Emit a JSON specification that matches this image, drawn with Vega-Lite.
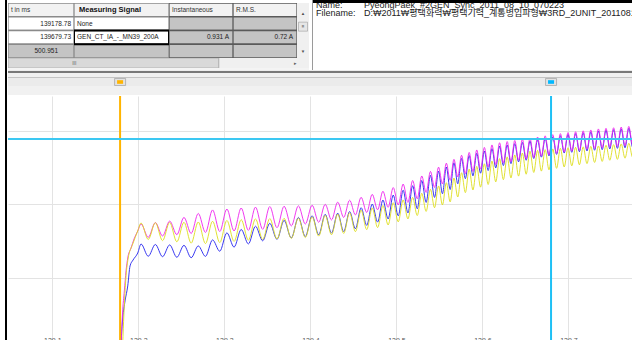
{
  "$schema": "https://vega.github.io/schema/vega-lite/v6.json",
  "padding": 0,
  "background": "white",
  "spacing": 0,
  "config": {"view": {"stroke": null}, "concat": {"spacing": 0}, "font": "Liberation Sans"},
  "datasets": {
    "table": [
      {"row": "0h", "col": "t", "kind": "header", "label": "t in ms"},
      {"row": "0h", "col": "sig", "kind": "header", "label": "Measuring Signal"},
      {"row": "0h", "col": "inst", "kind": "header", "label": "Instantaneous"},
      {"row": "0h", "col": "rms", "kind": "header", "label": "R.M.S."},
      {"row": "1", "col": "t", "kind": "edit", "label": "139178.78"},
      {"row": "1", "col": "sig", "kind": "edit", "label": "None"},
      {"row": "1", "col": "inst", "kind": "readonly", "label": ""},
      {"row": "1", "col": "rms", "kind": "readonly", "label": ""},
      {"row": "2", "col": "t", "kind": "edit", "label": "139679.73"},
      {"row": "2", "col": "sig", "kind": "selected", "label": "GEN_CT_IA_-_MN39_200A"},
      {"row": "2", "col": "inst", "kind": "readonly", "label": "0.931  A"},
      {"row": "2", "col": "rms", "kind": "readonly", "label": "0.72  A"},
      {"row": "3", "col": "t", "kind": "total", "label": "500.951"},
      {"row": "3", "col": "sig", "kind": "readonly", "label": ""},
      {"row": "3", "col": "inst", "kind": "readonly", "label": ""},
      {"row": "3", "col": "rms", "kind": "readonly", "label": ""}
    ],
    "cursors": [
      {"cursor": "C1", "t": 139.17878},
      {"cursor": "C2", "t": 139.67973, "v": 0.945}
    ],
    "waves": [
      {"t": 139.17873, "B": -0.565},
      {"t": 139.17931, "M": -0.565},
      {"t": 139.18106, "Y": -0.565},
      {"t": 139.18164, "M": -0.238},
      {"t": 139.18187, "B": -0.272},
      {"t": 139.18373, "M": -0.088},
      {"t": 139.18397, "Y": -0.156},
      {"t": 139.18455, "B": -0.156},
      {"t": 139.18571, "M": 0.048, "Y": 0.014},
      {"t": 139.18769, "M": 0.136, "B": -0.054},
      {"t": 139.18803, "Y": 0.129},
      {"t": 139.19036, "B": 0.082},
      {"t": 139.19152, "M": 0.204},
      {"t": 139.19350, "Y": 0.231},
      {"t": 139.19385, "B": 0.122},
      {"t": 139.19501, "M": 0.265},
      {"t": 139.19931, "M": 0.320, "B": 0.170, "Y": 0.320},
      {"t": 139.20315, "M": 0.367, "B": 0.231, "Y": 0.374},
      {"t": 139.21152, "M": 0.277, "B": 0.148, "Y": 0.262},
      {"t": 139.21978, "M": 0.377, "B": 0.228, "Y": 0.376},
      {"t": 139.22815, "M": 0.286, "B": 0.145, "Y": 0.254},
      {"t": 139.23641, "M": 0.387, "B": 0.225, "Y": 0.378},
      {"t": 139.24478, "M": 0.295, "B": 0.141, "Y": 0.246},
      {"t": 139.25304, "M": 0.412, "B": 0.222, "Y": 0.379},
      {"t": 139.26141, "M": 0.303, "B": 0.138, "Y": 0.237},
      {"t": 139.26966, "M": 0.439, "B": 0.218, "Y": 0.381},
      {"t": 139.27804, "M": 0.310, "B": 0.147, "Y": 0.234},
      {"t": 139.28629, "M": 0.463, "B": 0.259, "Y": 0.386},
      {"t": 139.29466, "M": 0.316, "B": 0.182, "Y": 0.241},
      {"t": 139.30292, "M": 0.469, "B": 0.307, "Y": 0.391},
      {"t": 139.31129, "M": 0.320, "B": 0.210, "Y": 0.249},
      {"t": 139.31955, "M": 0.476, "B": 0.330, "Y": 0.397},
      {"t": 139.32792, "M": 0.324, "B": 0.232, "Y": 0.257},
      {"t": 139.33617, "M": 0.482, "B": 0.352, "Y": 0.402},
      {"t": 139.34455, "M": 0.331, "B": 0.253, "Y": 0.262},
      {"t": 139.35280, "M": 0.486, "B": 0.372, "Y": 0.404},
      {"t": 139.36117, "M": 0.342, "B": 0.263, "Y": 0.265},
      {"t": 139.36943, "M": 0.488, "B": 0.392, "Y": 0.406},
      {"t": 139.37780, "M": 0.354, "B": 0.272, "Y": 0.269},
      {"t": 139.38606, "M": 0.491, "B": 0.412, "Y": 0.407},
      {"t": 139.39408, "M": 0.367, "B": 0.282, "Y": 0.275},
      {"t": 139.40199, "M": 0.495, "B": 0.423, "Y": 0.416},
      {"t": 139.40966, "M": 0.379, "B": 0.294, "Y": 0.285},
      {"t": 139.41722, "M": 0.501, "B": 0.433, "Y": 0.426},
      {"t": 139.42455, "M": 0.395, "B": 0.305, "Y": 0.294},
      {"t": 139.43176, "M": 0.516, "B": 0.441, "Y": 0.435},
      {"t": 139.43873, "M": 0.412, "B": 0.316, "Y": 0.303},
      {"t": 139.44559, "M": 0.529, "B": 0.452, "Y": 0.444},
      {"t": 139.45234, "M": 0.429, "B": 0.335, "Y": 0.315},
      {"t": 139.45897, "M": 0.549, "B": 0.478, "Y": 0.461},
      {"t": 139.46548, "M": 0.446, "B": 0.358, "Y": 0.329},
      {"t": 139.47187, "M": 0.569, "B": 0.503, "Y": 0.477},
      {"t": 139.47815, "M": 0.464, "B": 0.380, "Y": 0.343},
      {"t": 139.48431, "M": 0.590, "B": 0.530, "Y": 0.493},
      {"t": 139.49036, "M": 0.481, "B": 0.402, "Y": 0.361},
      {"t": 139.49629, "M": 0.615, "B": 0.564, "Y": 0.512},
      {"t": 139.50211, "M": 0.497, "B": 0.423, "Y": 0.382},
      {"t": 139.50780, "M": 0.639, "B": 0.597, "Y": 0.531},
      {"t": 139.51338, "M": 0.514, "B": 0.443, "Y": 0.402},
      {"t": 139.51885, "M": 0.663, "B": 0.628, "Y": 0.548},
      {"t": 139.52420, "M": 0.539, "B": 0.471, "Y": 0.425},
      {"t": 139.52943, "M": 0.694, "B": 0.663, "Y": 0.576},
      {"t": 139.53455, "M": 0.582, "B": 0.514, "Y": 0.453},
      {"t": 139.53955, "M": 0.725, "B": 0.698, "Y": 0.603},
      {"t": 139.54431, "M": 0.616, "B": 0.548, "Y": 0.478},
      {"t": 139.54897, "M": 0.754, "B": 0.727, "Y": 0.626},
      {"t": 139.55350, "M": 0.640, "B": 0.573, "Y": 0.497},
      {"t": 139.55804, "M": 0.781, "B": 0.755, "Y": 0.648},
      {"t": 139.56245, "M": 0.664, "B": 0.602, "Y": 0.518},
      {"t": 139.56687, "M": 0.807, "B": 0.784, "Y": 0.680},
      {"t": 139.57129, "M": 0.688, "B": 0.641, "Y": 0.551},
      {"t": 139.57571, "M": 0.835, "B": 0.813, "Y": 0.716},
      {"t": 139.58013, "M": 0.710, "B": 0.676, "Y": 0.581},
      {"t": 139.58455, "M": 0.854, "B": 0.833, "Y": 0.740},
      {"t": 139.58897, "M": 0.725, "B": 0.695, "Y": 0.599},
      {"t": 139.59338, "M": 0.871, "B": 0.848, "Y": 0.759},
      {"t": 139.59780, "M": 0.740, "B": 0.713, "Y": 0.618},
      {"t": 139.60222, "M": 0.888, "B": 0.864, "Y": 0.777},
      {"t": 139.60664, "M": 0.756, "B": 0.731, "Y": 0.636},
      {"t": 139.61106, "M": 0.905, "B": 0.880, "Y": 0.795},
      {"t": 139.61548, "M": 0.771, "B": 0.749, "Y": 0.654},
      {"t": 139.61990, "M": 0.920, "B": 0.897, "Y": 0.812},
      {"t": 139.62431, "M": 0.782, "B": 0.765, "Y": 0.669},
      {"t": 139.62873, "M": 0.928, "B": 0.905, "Y": 0.824},
      {"t": 139.63315, "M": 0.791, "B": 0.778, "Y": 0.681},
      {"t": 139.63757, "M": 0.935, "B": 0.914, "Y": 0.837},
      {"t": 139.64199, "M": 0.801, "B": 0.790, "Y": 0.693},
      {"t": 139.64641, "M": 0.944, "B": 0.922, "Y": 0.850},
      {"t": 139.65083, "M": 0.810, "B": 0.801, "Y": 0.706},
      {"t": 139.65524, "M": 0.951, "B": 0.931, "Y": 0.862},
      {"t": 139.65966, "M": 0.820, "B": 0.813, "Y": 0.718},
      {"t": 139.66408, "M": 0.959, "B": 0.940, "Y": 0.868},
      {"t": 139.66850, "M": 0.829, "B": 0.822, "Y": 0.727},
      {"t": 139.67292, "M": 0.967, "B": 0.949, "Y": 0.873},
      {"t": 139.67734, "M": 0.838, "B": 0.831, "Y": 0.736},
      {"t": 139.68176, "M": 0.975, "B": 0.959, "Y": 0.878},
      {"t": 139.68617, "M": 0.848, "B": 0.841, "Y": 0.746},
      {"t": 139.69059, "M": 0.982, "B": 0.968, "Y": 0.882},
      {"t": 139.69501, "M": 0.857, "B": 0.850, "Y": 0.755},
      {"t": 139.69943, "M": 0.989, "B": 0.976, "Y": 0.886},
      {"t": 139.70385, "M": 0.863, "B": 0.855, "Y": 0.763},
      {"t": 139.70827, "M": 0.995, "B": 0.982, "Y": 0.889},
      {"t": 139.71269, "M": 0.869, "B": 0.859, "Y": 0.770},
      {"t": 139.71710, "M": 1.001, "B": 0.988, "Y": 0.892},
      {"t": 139.72152, "M": 0.876, "B": 0.864, "Y": 0.778},
      {"t": 139.72594, "M": 1.007, "B": 0.994, "Y": 0.895},
      {"t": 139.73036, "M": 0.882, "B": 0.869, "Y": 0.786},
      {"t": 139.73478, "M": 1.014, "B": 1.000, "Y": 0.898},
      {"t": 139.73920, "M": 0.886, "B": 0.873, "Y": 0.793},
      {"t": 139.74362, "M": 1.018, "B": 1.005, "Y": 0.903},
      {"t": 139.74803, "M": 0.891, "B": 0.878, "Y": 0.801},
      {"t": 139.75245, "M": 1.022, "B": 1.009, "Y": 0.907},
      {"t": 139.75687, "M": 0.895, "B": 0.882, "Y": 0.807},
      {"t": 139.76129, "M": 1.027, "B": 1.014, "Y": 0.912},
      {"t": 139.76571, "M": 0.900, "B": 0.886, "Y": 0.815},
      {"t": 139.77013, "M": 1.031, "B": 1.018, "Y": 0.916},
      {"t": 139.77455, "M": 0.904, "B": 0.890, "Y": 0.822},
      {"t": 139.77897, "M": 1.034, "B": 1.020, "Y": 0.918}
    ]
  },
  "hconcat": [
    {"width": 5, "height": 340, "data": {"values": [{}]}, "mark": {"type": "rect", "color": "white"}},
    {"width": 2, "height": 340, "data": {"values": [{}]}, "view": {"fill": "black"}, "mark": {"type": "rect", "color": "black"}},
    {
      "spacing": 0,
      "vconcat": [
        {
          "spacing": 0,
          "hconcat": [
            {
              "spacing": 0,
              "vconcat": [
                {"width": 301, "height": 3, "data": {"values": [{}]}, "mark": {"type": "rect", "color": "white"}},
                {
                  "spacing": 0,
                  "hconcat": [
                    {
                      "width": 66, "height": 55,
                      "data": {"name": "table"},
                      "transform": [{"filter": "datum.col === 't'"}],
                      "encoding": {"y": {"field": "row", "type": "ordinal", "axis": null, "scale": {"paddingInner": 0, "paddingOuter": 0}}},
                      "layer": [
                        {"mark": {"type": "rect", "stroke": "#8a8a8a", "strokeWidth": 1.3, "clip": true},
                         "encoding": {"fill": {"field": "kind", "type": "nominal", "legend": null, "scale": {"domain": ["header", "edit", "selected", "readonly", "total"], "range": ["#f2f2f2", "#ffffff", "#ffffff", "#c4c4c4", "#c4c4c4"]}}}},
                        {"transform": [{"filter": "datum.kind === 'header'"}],
                         "mark": {"type": "text", "align": "left", "dx": -30, "fontSize": 6.5, "color": "#333333", "clip": true},
                         "encoding": {"text": {"field": "label"}}},
                        {"transform": [{"filter": "datum.kind === 'edit'"}],
                         "mark": {"type": "text", "align": "right", "dx": 30, "fontSize": 6.5, "color": "#222222", "clip": true},
                         "encoding": {"text": {"field": "label"}}},
                        {"transform": [{"filter": "datum.kind === 'total'"}],
                         "mark": {"type": "text", "align": "right", "dx": 17, "fontSize": 6.5, "color": "#222222", "clip": true},
                         "encoding": {"text": {"field": "label"}}}
                      ]
                    },
                    {
                      "width": 95, "height": 55,
                      "data": {"name": "table"},
                      "transform": [{"filter": "datum.col === 'sig'"}],
                      "encoding": {"y": {"field": "row", "type": "ordinal", "axis": null, "scale": {"paddingInner": 0, "paddingOuter": 0}}},
                      "layer": [
                        {"mark": {"type": "rect", "stroke": "#8a8a8a", "strokeWidth": 1.3, "clip": true},
                         "encoding": {"fill": {"field": "kind", "type": "nominal", "legend": null, "scale": {"domain": ["header", "edit", "selected", "readonly", "total"], "range": ["#f2f2f2", "#ffffff", "#ffffff", "#c4c4c4", "#c4c4c4"]}}}},
                        {"transform": [{"filter": "datum.kind === 'selected'"}],
                         "mark": {"type": "rect", "filled": false, "color": "black", "strokeWidth": 2, "clip": true}},
                        {"transform": [{"filter": "datum.kind === 'header'"}],
                         "mark": {"type": "text", "align": "left", "dx": -42.5, "fontSize": 7.5, "fontWeight": "bold", "color": "#111111", "clip": true},
                         "encoding": {"text": {"field": "label"}}},
                        {"transform": [{"filter": "datum.kind !== 'header'"}],
                         "mark": {"type": "text", "align": "left", "dx": -44.5, "fontSize": 6.5, "color": "#222222", "limit": 90, "ellipsis": "", "clip": true},
                         "encoding": {"text": {"field": "label"}}}
                      ]
                    },
                    {
                      "width": 64, "height": 55,
                      "data": {"name": "table"},
                      "transform": [{"filter": "datum.col === 'inst'"}],
                      "encoding": {"y": {"field": "row", "type": "ordinal", "axis": null, "scale": {"paddingInner": 0, "paddingOuter": 0}}},
                      "layer": [
                        {"mark": {"type": "rect", "stroke": "#5a5a5a", "strokeWidth": 1.3, "clip": true},
                         "encoding": {"fill": {"field": "kind", "type": "nominal", "legend": null, "scale": {"domain": ["header", "edit", "selected", "readonly", "total"], "range": ["#f2f2f2", "#ffffff", "#ffffff", "#c4c4c4", "#c4c4c4"]}}}},
                        {"transform": [{"filter": "datum.kind === 'header'"}],
                         "mark": {"type": "text", "align": "left", "dx": -29, "fontSize": 6.5, "color": "#333333", "clip": true},
                         "encoding": {"text": {"field": "label"}}},
                        {"transform": [{"filter": "datum.kind !== 'header'"}],
                         "mark": {"type": "text", "align": "right", "dx": 28, "fontSize": 6.5, "color": "#222222", "clip": true},
                         "encoding": {"text": {"field": "label"}}}
                      ]
                    },
                    {
                      "width": 64, "height": 55,
                      "data": {"name": "table"},
                      "transform": [{"filter": "datum.col === 'rms'"}],
                      "encoding": {"y": {"field": "row", "type": "ordinal", "axis": null, "scale": {"paddingInner": 0, "paddingOuter": 0}}},
                      "layer": [
                        {"mark": {"type": "rect", "stroke": "#5a5a5a", "strokeWidth": 1.3, "clip": true},
                         "encoding": {"fill": {"field": "kind", "type": "nominal", "legend": null, "scale": {"domain": ["header", "edit", "selected", "readonly", "total"], "range": ["#f2f2f2", "#ffffff", "#ffffff", "#c4c4c4", "#c4c4c4"]}}}},
                        {"transform": [{"filter": "datum.kind === 'header'"}],
                         "mark": {"type": "text", "align": "left", "dx": -29, "fontSize": 6.5, "color": "#333333", "clip": true},
                         "encoding": {"text": {"field": "label"}}},
                        {"transform": [{"filter": "datum.kind !== 'header'"}],
                         "mark": {"type": "text", "align": "right", "dx": 28, "fontSize": 6.5, "color": "#222222", "clip": true},
                         "encoding": {"text": {"field": "label"}}}
                      ]
                    },
                    {
                      "width": 12, "height": 55,
                      "view": {"fill": "#f0f0f0"},
                      "data": {"values": [{"p": "up", "g": "▲"}, {"p": "thumb", "g": "≡"}, {"p": "down", "g": "▼"}]},
                      "encoding": {"y": {"field": "p", "type": "nominal", "axis": null, "scale": {"type": "point", "padding": 0, "domain": ["up", "thumb", "gap", "down"], "range": [11, 49]}}},
                      "layer": [
                        {"transform": [{"filter": "datum.p === 'thumb'"}],
                         "mark": {"type": "point", "shape": "square", "size": 81, "filled": true, "color": "#e6e6e6", "stroke": "#a8a8a8", "strokeWidth": 0.7, "opacity": 1, "clip": true}},
                        {"mark": {"type": "text", "fontSize": 4.5, "color": "#505050", "clip": true},
                         "encoding": {"text": {"field": "g"}}}
                      ]
                    }
                  ]
                },
                {
                  "width": 301, "height": 10,
                  "view": {"fill": "#f0f0f0"},
                  "data": {"values": [{"part": "thumb", "a": 0, "b": 0.7}, {"part": "grip", "a": 0.22, "g": "III"}, {"part": "arrow", "a": 0.955, "g": "▸"}]},
                  "encoding": {"x": {"field": "a", "type": "quantitative", "axis": null, "scale": {"domain": [0, 1], "nice": false}}},
                  "layer": [
                    {"transform": [{"filter": "datum.part === 'thumb'"}],
                     "mark": {"type": "rect", "color": "#d9d9d9", "stroke": "#b5b5b5", "strokeWidth": 1.2, "clip": true},
                     "encoding": {"x2": {"field": "b"}}},
                    {"transform": [{"filter": "datum.part !== 'thumb'"}],
                     "mark": {"type": "text", "fontSize": 5, "color": "#606060", "clip": true},
                     "encoding": {"text": {"field": "g"}}}
                  ]
                },
                {"width": 301, "height": 2, "data": {"values": [{}]}, "mark": {"type": "rect", "color": "#f4f4f4"}}
              ]
            },
            {"width": 3, "height": 70, "data": {"values": [{}]}, "mark": {"type": "rect", "color": "white"}},
            {"width": 1, "height": 70, "data": {"values": [{}]}, "mark": {"type": "rect", "color": "#9a9a9a"}},
            {
              "spacing": 0,
              "vconcat": [
                {"width": 320, "height": 3, "data": {"values": [{}]}, "view": {"fill": "black"}, "mark": {"type": "rect", "color": "black"}},
                {
                  "width": 320, "height": 67,
                  "view": {"fill": "#ffffff"},
                  "data": {"values": [
                    {"line": "a", "key": "Name:", "val": "PyeongPaek_#2GEN_Sync_2011_08_10_070223"},
                    {"line": "b", "key": "Filename:", "val": "D:₩2011₩평택화력₩평택기력_계통병입파형₩3RD_2UNIT_20110810₩PyeongPaek_#2GEN_Sync_2011_08_10_070223"}
                  ]},
                  "encoding": {"y": {"field": "line", "type": "nominal", "axis": null, "scale": {"type": "point", "padding": 0, "range": [5, 13]}}},
                  "layer": [
                    {"mark": {"type": "text", "align": "left", "baseline": "alphabetic", "dx": -157, "fontSize": 9, "color": "#222222", "clip": true, "font": "Liberation Sans, Noto Sans CJK KR"},
                     "encoding": {"text": {"field": "key"}}},
                    {"mark": {"type": "text", "align": "left", "baseline": "alphabetic", "dx": -109, "fontSize": 9, "color": "#222222", "clip": true, "font": "Liberation Sans, Noto Sans CJK KR"},
                     "encoding": {"text": {"field": "val"}}}
                  ]
                }
              ]
            }
          ]
        },
        {"width": 625, "height": 1, "data": {"values": [{}]}, "mark": {"type": "rect", "color": "#ececec"}},
        {"width": 625, "height": 2, "data": {"values": [{}]}, "mark": {"type": "rect", "color": "#787878"}},
        {"width": 625, "height": 4, "data": {"values": [{}]}, "mark": {"type": "rect", "color": "#f0f0f0"}},
        {"width": 625, "height": 1, "data": {"values": [{}]}, "mark": {"type": "rect", "color": "#c4c4c4"}},
        {
          "width": 625, "height": 8,
          "view": {"fill": "#ebebeb"},
          "data": {"name": "cursors"},
          "encoding": {"x": {"field": "t", "type": "quantitative", "axis": null, "scale": {"domain": [139.0485, 139.775], "nice": false, "zero": false}}},
          "layer": [
            {"mark": {"type": "point", "shape": "M-1,-0.64L1,-0.64L1,0.64L-1,0.64Z", "size": 121, "filled": true, "color": "#e2e2e2", "stroke": "#a8a8a8", "strokeWidth": 0.8, "opacity": 1, "clip": true}},
            {"transform": [{"filter": "datum.cursor === 'C1'"}],
             "mark": {"type": "point", "shape": "M-1,-0.6L1,-0.6L1,0.6L-1,0.6Z", "size": 36, "filled": true, "opacity": 1, "color": "#ffb400", "clip": true}},
            {"transform": [{"filter": "datum.cursor === 'C2'"}],
             "mark": {"type": "point", "shape": "M-1,-0.6L1,-0.6L1,0.6L-1,0.6Z", "size": 36, "filled": true, "opacity": 1, "color": "#00b8ff", "clip": true}}
          ]
        },
        {"width": 625, "height": 9, "data": {"values": [{}]}, "mark": {"type": "rect", "color": "#f1f1f1"}},
        {
          "width": 625, "height": 250,
          "layer": [
            {
              "data": {"name": "waves"},
              "transform": [{"fold": ["Y", "B", "M"], "as": ["s", "v"]}, {"filter": "isValid(datum.v)"}],
              "mark": {"type": "line", "strokeWidth": 1, "clip": true, "interpolate": "monotone", "opacity": 0.9},
              "encoding": {
                "x": {"field": "t", "type": "quantitative",
                      "scale": {"domain": [139.0485, 139.775], "nice": false, "zero": false},
                      "axis": {"values": [139.1, 139.2, 139.3, 139.4, 139.5, 139.6, 139.7], "format": ".1f", "grid": true, "gridColor": "#e3e3e3", "domain": false, "ticks": false, "tickSize": 0, "labelPadding": -10, "labelFontSize": 7, "labelColor": "#555555", "title": null}},
                "y": {"field": "v", "type": "quantitative",
                      "scale": {"domain": [-0.4626, 1.238], "nice": false, "zero": false},
                      "axis": {"values": [0, 0.5, 1], "grid": true, "gridColor": "#e3e3e3", "labels": false, "ticks": false, "domain": false, "title": null}},
                "color": {"field": "s", "type": "nominal", "legend": null,
                          "scale": {"domain": ["Y", "B", "M"], "range": ["#dede1e", "#2323ee", "#ee25ee"]}}
              }
            },
            {
              "data": {"name": "cursors"},
              "transform": [{"filter": "datum.cursor === 'C1'"}],
              "mark": {"type": "rule", "strokeWidth": 2, "color": "#ffb400"},
              "encoding": {"x": {"field": "t", "type": "quantitative"}}
            },
            {
              "data": {"name": "cursors"},
              "transform": [{"filter": "datum.cursor === 'C2'"}],
              "mark": {"type": "rule", "strokeWidth": 2, "color": "#1ec0f5"},
              "encoding": {"x": {"field": "t", "type": "quantitative"}}
            },
            {
              "data": {"name": "cursors"},
              "transform": [{"filter": "isValid(datum.v)"}],
              "mark": {"type": "rule", "strokeWidth": 2, "color": "#3cc8f2"},
              "encoding": {"y": {"field": "v", "type": "quantitative"}}
            }
          ]
        }
      ]
    }
  ]
}
